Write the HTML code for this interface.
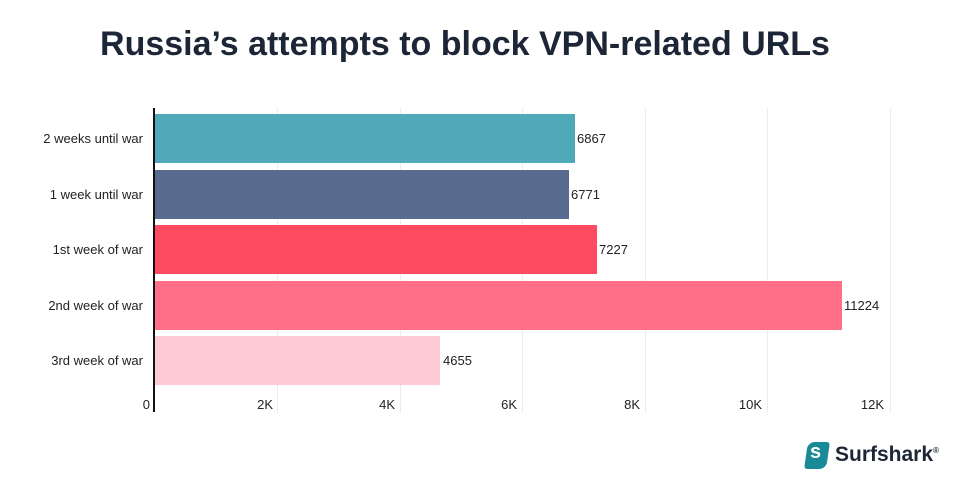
<!DOCTYPE html>
<html><head><style>
body{margin:0;width:960px;height:484px;background:#fff;font-family:"Liberation Sans",sans-serif;position:relative;overflow:hidden;color:#222}
.t{position:absolute;top:25px;left:-15px;width:960px;text-align:center;font-size:34px;font-weight:bold;color:#1d2636}
.g{position:absolute;top:108px;height:305px;width:1px;background:#ececec}
.bar{position:absolute;left:155px;height:49px}
.lab{position:absolute;right:817px;font-size:13px;text-align:right;white-space:nowrap}
.v{position:absolute;font-size:13px}
.x{position:absolute;top:397px;font-size:13px;text-align:right;width:40px}
</style></head><body>
<div class="t">Russia’s attempts to block VPN-related URLs</div>
<div class="g" style="left:277px"></div><div class="g" style="left:400px"></div><div class="g" style="left:522px"></div><div class="g" style="left:645px"></div><div class="g" style="left:767px"></div><div class="g" style="left:890px"></div>
<div style="position:absolute;left:153px;top:108px;width:2px;height:304px;background:#111"></div>
<div class="bar" style="top:114px;width:420px;background:#4fa9b8"></div>
<div class="bar" style="top:170px;width:414px;background:#586a8d"></div>
<div class="bar" style="top:225px;width:442px;background:#ff4b61"></div>
<div class="bar" style="top:281px;width:687px;background:#ff7088"></div>
<div class="bar" style="top:336px;width:285px;background:#fdcbd3"></div>
<div class="lab" style="top:131px">2 weeks until war</div>
<div class="lab" style="top:187px">1 week until war</div>
<div class="lab" style="top:242px">1st week of war</div>
<div class="lab" style="top:298px">2nd week of war</div>
<div class="lab" style="top:353px">3rd week of war</div>
<div class="v" style="left:577px;top:131px">6867</div>
<div class="v" style="left:571px;top:187px">6771</div>
<div class="v" style="left:599px;top:242px">7227</div>
<div class="v" style="left:844px;top:298px">11224</div>
<div class="v" style="left:443px;top:353px">4655</div>
<div class="x" style="left:110px">0</div>
<div class="x" style="left:233px">2K</div>
<div class="x" style="left:355px">4K</div>
<div class="x" style="left:477px">6K</div>
<div class="x" style="left:600px">8K</div>
<div class="x" style="left:722px">10K</div>
<div class="x" style="left:844px">12K</div>
<div style="position:absolute;left:806px;top:442px;width:22px;height:27px;background:#1a8a99;border-radius:7px 3px 7px 3px;transform:skewX(-8deg)"></div>
<div style="position:absolute;left:810px;top:441px;font-size:20px;color:#fff;font-weight:bold">s</div>
<div style="position:absolute;left:835px;top:443px;font-size:21px;font-weight:bold;color:#1d2636">Surfshark<sup style="font-size:8px">®</sup></div>
</body></html>
